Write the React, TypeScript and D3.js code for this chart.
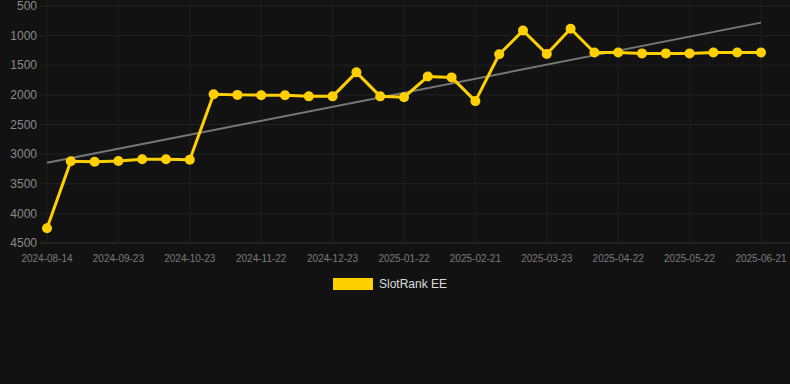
import React from "react";
import * as d3 from "d3";

const dates = [
  "2024-08-14","2024-08-27","2024-09-10","2024-09-23","2024-10-03","2024-10-13",
  "2024-10-23","2024-11-02","2024-11-12","2024-11-22","2024-12-02","2024-12-13",
  "2024-12-23","2025-01-02","2025-01-12","2025-01-22","2025-02-01","2025-02-11",
  "2025-02-21","2025-03-03","2025-03-13","2025-03-23","2025-04-02","2025-04-12",
  "2025-04-22","2025-05-02","2025-05-12","2025-05-22","2025-06-01","2025-06-11",
  "2025-06-21",
];
const rankValues = [
  4250, 3120, 3130, 3115, 3085, 3085, 3095, 1990, 2000, 2005, 2005, 2025, 2025,
  1620, 2025, 2040, 1690, 1705, 2105, 1315, 915, 1310, 885, 1285, 1285, 1300,
  1300, 1300, 1285, 1285, 1285,
];
const yTicks = [500, 1000, 1500, 2000, 2500, 3000, 3500, 4000, 4500];
const seriesName = "SlotRank EE";

const W = 790;
const H = 384;
const left = 47;
const right = 761;
const top = 6;
const bottom = 243;

export default function App() {
  const x = d3.scalePoint<string>().domain(dates).range([left, right]);
  const y = d3.scaleLinear().domain([500, 4500]).range([top, bottom]);

  const n = rankValues.length;
  const idx = d3.range(n);
  const mx = d3.mean(idx)!;
  const my = d3.mean(rankValues)!;
  const sxy = d3.sum(idx, (i) => (i - mx) * (rankValues[i] - my));
  const sxx = d3.sum(idx, (i) => (i - mx) * (i - mx));
  const slope = sxy / sxx;
  const icpt = my - slope * mx;

  const line = d3
    .line<number>()
    .x((_, i) => x(dates[i])!)
    .y((d) => y(d));

  const tickDates = dates.filter((_, i) => i % 3 === 0);

  return (
    <div style={{ position: "fixed", left: 0, top: 0, width: W, height: H }}>
      <svg width={W} height={H} style={{ display: "block", background: "#121212" }}>
        <rect x={0} y={0} width={W} height={H} fill="#121212" />
        {yTicks.map((t) => (
          <g key={t}>
            <line x1={40} x2={W} y1={y(t)} y2={y(t)} stroke={t === 4500 ? "#333" : "#222"} strokeWidth={1} />
            <text
              x={37}
              y={y(t)}
              dy="0.35em"
              textAnchor="end"
              fill="#8a8a8a"
              fontSize={12}
              fontFamily="Liberation Sans, Arial, sans-serif"
            >
              {t}
            </text>
          </g>
        ))}
        {tickDates.map((d) => (
          <g key={d}>
            <line x1={x(d)} x2={x(d)} y1={0} y2={bottom} stroke="#1f1f1f" strokeWidth={1} />
            <text
              x={x(d)}
              y={262}
              textAnchor="middle"
              fill="#7a7a7a"
              fontSize={10}
              fontFamily="Liberation Sans, Arial, sans-serif"
            >
              {d}
            </text>
          </g>
        ))}
        <line
          x1={x(dates[0])}
          x2={x(dates[n - 1])}
          y1={y(icpt)}
          y2={y(icpt + slope * (n - 1))}
          stroke="#777"
          strokeWidth={2}
        />
        <path d={line(rankValues)!} fill="none" stroke="#FFD000" strokeWidth={3} strokeLinejoin="round" />
        {rankValues.map((v, i) => (
          <circle key={i} cx={x(dates[i])} cy={y(v)} r={5} fill="#FFD000" />
        ))}
        <rect x={333} y={278} width={40} height={12} fill="#FFD000" />
        <text
          x={379}
          y={284}
          dy="0.35em"
          fill="#dddddd"
          fontSize={12}
          fontFamily="Liberation Sans, Arial, sans-serif"
        >
          {seriesName}
        </text>
      </svg>
    </div>
  );
}
